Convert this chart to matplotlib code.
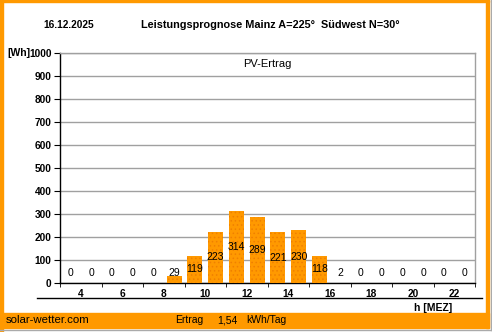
import matplotlib.pyplot as plt
import numpy as np
from matplotlib.lines import Line2D
from matplotlib.patches import Rectangle

plt.rcParams["font.family"] = ["Liberation Sans", "DejaVu Sans"]
plt.rcParams["hatch.linewidth"] = 0.6

hours = np.arange(3, 23)
wh = [0, 0, 0, 0, 0, 29, 119, 223, 314, 289, 221, 230, 118, 2, 0, 0, 0, 0, 0, 0]
date = "16.12.2025"
title = "Leistungsprognose Mainz A=225°  Südwest N=30°"
total = "1,54"

orange = "#FF9900"

fig = plt.figure(figsize=(4.92, 3.32), dpi=100)
fig.patch.set_facecolor("white")

# orange frame and footer band
fig.add_artist(Rectangle((0, 0), 0.0065, 1, transform=fig.transFigure, color=orange, zorder=0))
fig.add_artist(Rectangle((0.988, 0.012), 0.006, 0.988, transform=fig.transFigure, color=orange, zorder=0))
fig.add_artist(Rectangle((0, 0.994), 0.994, 0.006, transform=fig.transFigure, color=orange, zorder=0))
fig.add_artist(Rectangle((0, 0.012), 0.994, 0.045, transform=fig.transFigure, color=orange, zorder=0))
fig.add_artist(Line2D([0, 0.998], [0.005, 0.005], transform=fig.transFigure, color="#aaaaaa", lw=1))
fig.add_artist(Line2D([0.998, 0.998], [0.005, 1], transform=fig.transFigure, color="#aaaaaa", lw=1))

ax = fig.add_axes([0.122, 0.1476, 0.8435, 0.6928])
ax.bar(hours + 0.5, wh, width=0.72, color=orange, edgecolor="#F08000",
       hatch="....", linewidth=0, zorder=3)

# value labels sit at half bar height, but not below a minimum
for h, v in zip(hours, wh):
    ax.text(h + 0.5, max(v / 2, 45), str(v), ha="center", va="center",
            fontsize=7.5, color="black", zorder=4)

ax.set_xlim(3, 23)
ax.set_ylim(0, 1000)
ax.set_yticks(range(0, 1001, 100))
ax.grid(axis="y", color="#a0a0a0", lw=1, zorder=0)
ax.tick_params(axis="y", labelsize=7.3, length=4, direction="out", pad=2)
for lbl in ax.get_yticklabels():
    lbl.set_fontweight("bold")

ax.set_xticks(range(4, 23, 2))
ax.set_xticks(range(3, 24, 2), minor=True)
ax.tick_params(axis="x", which="major", length=0, labelsize=7.3, pad=4)
ax.tick_params(axis="x", which="minor", length=3, direction="out")
for lbl in ax.get_xticklabels():
    lbl.set_fontweight("bold")

for s in ["left", "bottom"]:
    ax.spines[s].set_color("black")
    ax.spines[s].set_linewidth(1)
for s in ["right", "top"]:
    ax.spines[s].set_color("#a0a0a0")
    ax.spines[s].set_linewidth(1)

ax.text(0.5, 0.975, "PV-Ertrag", transform=ax.transAxes, ha="center", va="top", fontsize=8)

fig.text(0.14, 0.924, date, ha="center", va="center", fontsize=7.3, fontweight="bold")
fig.text(0.549, 0.924, title, ha="center", va="center", fontsize=7.8, fontweight="bold")
fig.text(0.016, 0.84, "[Wh]", ha="left", va="center", fontsize=7.5, fontweight="bold")

fig.add_artist(Line2D([0.075, 0.98], [0.102, 0.102], transform=fig.transFigure, color="black", lw=1))
fig.text(0.88, 0.072, "h [MEZ]", ha="center", va="center", fontsize=7.5, fontweight="bold")

fig.text(0.012, 0.035, "solar-wetter.com", ha="left", va="center", fontsize=8.2)
fig.text(0.356, 0.035, "Ertrag", ha="left", va="center", fontsize=7.5)
fig.text(0.441, 0.035, total, ha="left", va="center", fontsize=7.5)
fig.text(0.5, 0.035, "kWh/Tag", ha="left", va="center", fontsize=7.5)

fig.savefig("out.png", dpi=100, facecolor=fig.get_facecolor())
